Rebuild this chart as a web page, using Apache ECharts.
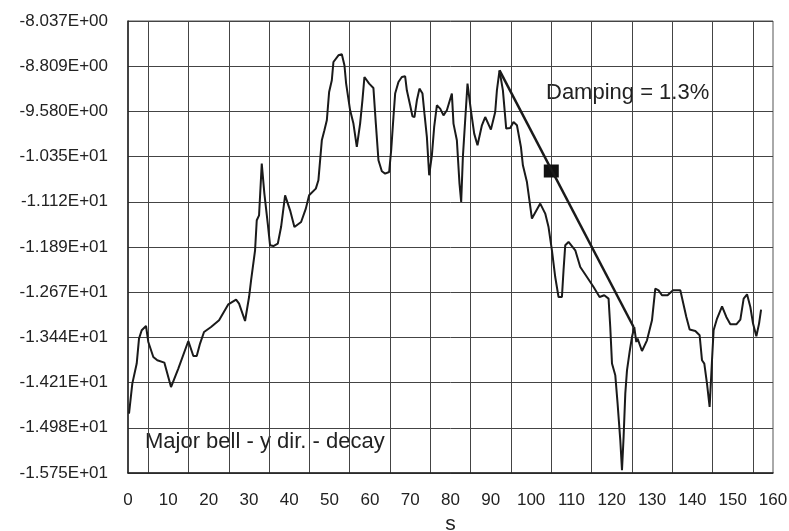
<!DOCTYPE html>
<html>
<head>
<meta charset="utf-8">
<script src="https://cdn.jsdelivr.net/npm/echarts@6/dist/echarts.min.js"></script>
<style>
  html, body { margin: 0; padding: 0; background: #fff; }
  #chart { width: 789px; height: 531px; }
</style>
</head>
<body>
<div id="chart"></div>
<script>
// decay record, time in s
var timeS = [0.25, 1.07, 2.16, 2.73, 3.40, 4.47, 5.04, 6.28, 7.27, 9.01, 10.67, 12.48, 14.97, 16.21, 17.05, 17.87, 18.86, 20.60, 22.59, 24.89,
  26.81, 27.55, 29.04, 30.03, 30.53, 31.52, 31.94, 32.51, 33.18, 33.83, 34.67, 35.24, 36.06, 37.16, 37.97, 38.97, 40.21, 41.28, 42.94, 44.11,
  44.93, 46.59, 47.23, 48.08, 48.72, 49.32, 49.89, 50.56, 50.96, 52.20, 53.04, 53.69, 54.11, 55.10, 55.92, 56.76, 57.58, 58.15, 58.65, 59.82,
  60.88, 61.48, 62.13, 62.97, 63.79, 64.78, 65.28, 65.85, 66.27, 67.09, 67.93, 68.75, 69.17, 69.99, 70.56, 71.06, 71.66, 72.30, 73.05, 73.54,
  74.14, 74.71, 75.38, 75.95, 76.62, 77.44, 78.26, 79.10, 80.34, 80.74, 81.58, 82.23, 82.65, 83.07, 83.64, 84.22, 85.06, 85.88, 86.70, 87.79,
  88.61, 90.02, 91.09, 91.51, 92.16, 93.00, 93.82, 94.81, 95.63, 96.48, 97.47, 97.96, 98.96, 100.20, 102.26, 103.50, 104.32, 105.16, 105.98, 106.80,
  107.64, 108.04, 108.46, 109.28, 110.95, 112.19, 113.85, 115.49, 116.98, 118.14, 119.21, 119.63, 120.06, 120.88, 121.45, 122.12, 122.54, 122.94, 123.36, 123.78,
  124.43, 125.02, 125.59, 126.09, 126.41, 127.50, 128.74, 129.98, 130.80, 131.62, 132.46, 133.85, 135.20, 137.01, 137.43, 138.50, 139.32, 140.73, 141.80, 142.39,
  142.96, 143.63, 144.28, 144.87, 145.27, 146.12, 147.36, 148.42, 149.42, 150.91, 151.90, 152.72, 153.56, 154.38, 155.05, 155.87, 156.54, 157.04];
var accY = [-14.736, -14.225, -13.883, -13.457, -13.315, -13.242, -13.515, -13.771, -13.827, -13.866, -14.283, -13.969, -13.498, -13.754, -13.754, -13.542, -13.344, -13.259, -13.144, -12.872,
  -12.791, -12.860, -13.156, -12.747, -12.462, -11.950, -11.438, -11.353, -10.471, -10.983, -11.494, -11.865, -11.877, -11.836, -11.553, -11.012, -11.268, -11.553, -11.467, -11.239,
  -11.012, -10.897, -10.756, -10.073, -9.902, -9.732, -9.249, -9.049, -8.737, -8.623, -8.606, -8.793, -9.106, -9.561, -9.788, -10.187, -9.788, -9.391, -8.993, -9.106,
  -9.181, -9.788, -10.414, -10.602, -10.641, -10.614, -10.244, -9.676, -9.276, -9.078, -8.993, -8.981, -9.220, -9.476, -9.664, -9.676, -9.391, -9.191, -9.276, -9.618,
  -10.017, -10.670, -10.329, -9.846, -9.476, -9.532, -9.647, -9.561, -9.276, -9.788, -10.073, -10.812, -11.126, -10.358, -9.732, -9.106, -9.561, -9.959, -10.158, -9.817,
  -9.676, -9.891, -9.590, -9.220, -8.879, -9.220, -9.873, -9.863, -9.761, -9.817, -10.187, -10.500, -10.785, -11.409, -11.153, -11.324, -11.553, -11.950, -12.406, -12.747,
  -12.747, -12.291, -11.865, -11.808, -11.950, -12.235, -12.406, -12.576, -12.747, -12.718, -12.774, -13.259, -13.883, -14.083, -14.566, -15.192, -15.704, -15.136, -14.395, -13.998,
  -13.685, -13.429, -13.259, -13.515, -13.457, -13.668, -13.486, -13.144, -12.604, -12.633, -12.718, -12.718, -12.633, -12.633, -12.662, -13.088, -13.303, -13.327, -13.400, -13.827,
  -13.883, -14.225, -14.624, -13.827, -13.315, -13.115, -12.906, -13.088, -13.213, -13.213, -13.133, -12.774, -12.701, -12.918, -13.201, -13.418, -13.201, -12.962];

// damping envelope line and its marker
var dampX = [92.16, 125.42];
var dampY = [-8.879, -13.259];
var markerX = [105];
var markerY = [-10.597];

// axes
var xLabelValues = [0, 10, 20, 30, 40, 50, 60, 70, 80, 90, 100, 110, 120, 130, 140, 150, 160];
var xGridValues = [5, 15, 25, 35, 45, 55, 65, 75, 85, 95, 105, 115, 125, 135, 145, 155];
var yTicks = [-15.75, -14.97875, -14.2075, -13.43625, -12.665, -11.89375, -11.1225, -10.35125, -9.58, -8.80875, -8.0375];
var yTickLabels = ['-1.575E+01', '-1.498E+01', '-1.421E+01', '-1.344E+01', '-1.267E+01', '-1.189E+01', '-1.112E+01', '-1.035E+01', '-9.580E+00', '-8.809E+00', '-8.037E+00'];

var FONT = 'Liberation Sans, Arial, sans-serif';

function pairs(xs, ys) {
  return xs.map(function (x, i) { return [x, ys[i]]; });
}

var chart = echarts.init(document.getElementById('chart'));

var option = {
  animation: false,
  grid: {
    left: 128, right: 16, top: 21, bottom: 58,
    outerBoundsMode: 'none',
    containLabel: false,
    show: true, borderColor: '#555', borderWidth: 1
  },
  xAxis: {
    type: 'value',
    min: 0, max: 160,
    name: 's',
    nameLocation: 'middle',
    nameGap: 39,
    nameTextStyle: { color: '#222', fontSize: 21, fontFamily: FONT },
    axisLine: { show: true, lineStyle: { color: '#222', width: 1.5 } },
    axisTick: { show: false, customValues: xGridValues },
    axisLabel: { customValues: xLabelValues, color: '#222', fontSize: 17, fontFamily: FONT, margin: 19 },
    splitLine: { show: true, lineStyle: { color: '#444', width: 1 } }
  },
  yAxis: {
    type: 'value',
    min: yTicks[0], max: yTicks[yTicks.length - 1],
    axisLine: { show: true, lineStyle: { color: '#222', width: 1.5 } },
    axisTick: { show: false, customValues: yTicks },
    axisLabel: {
      customValues: yTicks, color: '#222', fontSize: 17, fontFamily: FONT, margin: 20,
      formatter: function (v) {
        var best = 0;
        yTicks.forEach(function (t, i) { if (Math.abs(t - v) < Math.abs(yTicks[best] - v)) best = i; });
        return yTickLabels[best];
      }
    },
    splitLine: { show: true, lineStyle: { color: '#444', width: 1 } }
  },
  series: [
    {
      type: 'line',
      data: pairs(timeS, accY),
      symbol: 'none',
      lineStyle: { color: '#1a1a1a', width: 2 }
    },
    {
      type: 'line',
      data: pairs(dampX, dampY),
      symbol: 'none',
      lineStyle: { color: '#1a1a1a', width: 2.5 }
    },
    {
      type: 'scatter',
      data: pairs(markerX, markerY),
      symbol: 'rect',
      symbolSize: [15, 13],
      itemStyle: { color: '#111', opacity: 1 }
    }
  ],
  graphic: [
    {
      type: 'text', left: 546, top: 82,
      style: { text: 'Damping = 1.3%', fill: '#222', font: '22px ' + FONT }
    },
    {
      type: 'text', left: 145, top: 431,
      style: { text: 'Major bell - y dir. - decay', fill: '#222', font: '22px ' + FONT }
    }
  ]
};

chart.setOption(option);
</script>
</body>
</html>
